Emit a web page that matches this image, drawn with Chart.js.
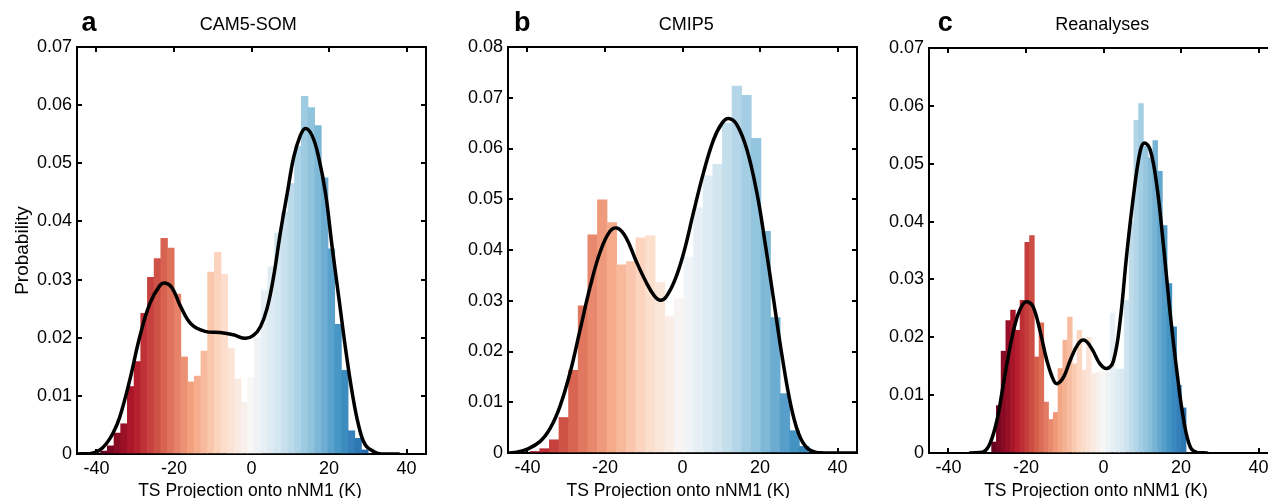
<!DOCTYPE html>
<html><head><meta charset="utf-8">
<script src="https://cdn.jsdelivr.net/npm/chart.js@4/dist/chart.umd.min.js"></script>
<style>
html,body{margin:0;padding:0;width:1268px;height:498px;overflow:hidden;background:#fff}
canvas{position:absolute;top:0}
</style></head><body>
<canvas id="ca" width="430" height="510" style="left:0px"></canvas>
<canvas id="cb" width="430" height="510" style="left:431px"></canvas>
<canvas id="cc" width="430" height="510" style="left:852px"></canvas>
<script>
// ---------- data ----------
const xTicks = [-40, -20, 0, 20, 40];
const yTicksA = [0, 0.01, 0.02, 0.03, 0.04, 0.05, 0.06, 0.07];
const yTicksB = [0, 0.01, 0.02, 0.03, 0.04, 0.05, 0.06, 0.07, 0.08];
const yTicksC = [0, 0.01, 0.02, 0.03, 0.04, 0.05, 0.06, 0.07];

// Panel a: CAM5-SOM
const aBins = [-38.050,-36.325,-34.600,-32.875,-31.150,-29.425,-27.700,-25.975,-24.250,-22.525,
  -20.800,-19.075,-17.350,-15.625,-13.900,-12.175,-10.450,-8.725,-7.000,-5.275,
  -3.550,-1.825,-0.100,1.625,3.350,5.075,6.800,8.525,10.250,11.975,
  13.700,15.425,17.150,18.875,20.600,22.325,24.050,25.775,27.500,29.225];
const aProb = [0.0005,0.0014,0.0036,0.0052,0.0116,0.0159,0.0242,0.0304,0.0336,0.0371,
  0.0354,0.0275,0.0167,0.0124,0.0134,0.0177,0.0313,0.0347,0.0309,0.0182,
  0.0129,0.0089,0.0132,0.0200,0.0281,0.0322,0.0380,0.0416,0.0465,0.0529,
  0.0615,0.0596,0.0565,0.0475,0.0353,0.0223,0.0144,0.0040,0.0027,0.0007];
const aCurveX = [-45,-41.5,-39.1,-37.4,-35.7,-34.0,-31.4,-28.8,-26.2,-23.6,-22.3,-20.5,-18.3,-15.5,-12.0,-8.1,-4.7,-1.6,0.5,2.3,4.0,5.7,7.4,9.2,10.9,12.6,13.9,15.6,17.3,19.1,20.8,22.6,24.3,26.0,27.7,29.4,31.6,33.5,38];
const aCurveY = [0,0.0001,0.0007,0.0018,0.0036,0.0063,0.0127,0.0202,0.0259,0.0290,0.0294,0.0286,0.0254,0.0223,0.0211,0.0209,0.0205,0.0199,0.0204,0.0219,0.0250,0.0305,0.0379,0.0448,0.0511,0.0548,0.0560,0.0548,0.0511,0.0448,0.0356,0.0265,0.0179,0.0104,0.0047,0.0015,0.0004,0,0];

// Panel b: CMIP5
const bBins = [-38.06,-35.58,-33.10,-30.62,-28.14,-25.66,-23.18,-20.70,-18.22,-15.74,
  -13.26,-10.78,-8.30,-5.82,-3.34,-0.86,1.62,4.10,6.58,9.06,
  11.54,14.02,16.50,18.98,21.46,23.94,26.42,28.90,31.38];
const bProb = [0.0003,0.00085,0.0026,0.0070,0.0163,0.0290,0.0430,0.0499,0.0454,0.0371,
  0.0377,0.0424,0.0428,0.0336,0.0269,0.0304,0.0386,0.0483,0.0546,0.0569,
  0.0650,0.0723,0.0705,0.0620,0.0437,0.0267,0.0117,0.0044,0.0013];
const bCurveX = [-45,-42.5,-40.2,-36.7,-34.1,-31.6,-29.0,-26.4,-23.8,-21.2,-18.7,-16.8,-14.6,-12.0,-9.4,-7.3,-5.8,-4.2,-1.9,0.3,2.8,5.4,8.0,10.2,11.9,14.0,16.6,19.2,21.3,23.5,25.7,27.8,29.9,32.1,34.7,37,45];
const bCurveY = [0,0.0002,0.0007,0.0023,0.0049,0.0092,0.0158,0.0243,0.0328,0.0397,0.0437,0.0443,0.0425,0.0379,0.0337,0.0310,0.0301,0.0308,0.0342,0.0394,0.0473,0.0552,0.0617,0.0650,0.0659,0.0647,0.0598,0.0512,0.0414,0.0302,0.0190,0.0099,0.0039,0.0010,0.0001,0,0];

// Panel c: Reanalyses
const cBins = [-28.240,-27.017,-25.794,-24.571,-23.348,-22.125,-20.902,-19.679,-18.456,-17.233,
  -16.010,-14.787,-13.564,-12.341,-11.118,-9.895,-8.672,-7.449,-6.226,-5.003,
  -3.780,-2.557,-1.334,-0.111,1.112,2.335,3.558,4.781,6.004,7.227,
  8.450,9.673,10.896,12.119,13.342,14.565,15.788,17.011,18.234,19.457,20.680];
const cProb = [0.0019,0.0082,0.0176,0.0229,0.0247,0.0212,0.0264,0.0364,0.0376,0.0166,
  0.0225,0.0088,0.0058,0.0070,0.0146,0.0195,0.0235,0.0154,0.0212,0.0143,
  0.0200,0.0137,0.0139,0.0140,0.0139,0.0242,0.0145,0.0145,0.0264,0.0400,
  0.0575,0.0604,0.0530,0.0510,0.0540,0.0487,0.0393,0.0293,0.0218,0.0117,0.0078];
const cCurveX = [-34.4,-31.0,-29.3,-27.5,-25.8,-24.1,-22.4,-20.7,-19.4,-18.1,-16.4,-14.6,-12.9,-11.9,-10.3,-8.6,-6.5,-4.9,-3.0,-0.9,0.9,2.6,4.3,6.0,7.8,9.5,10.6,12.1,13.8,15.5,17.2,19.0,20.7,22.4,24.1,26.7];
const cCurveY = [0,0.0002,0.0016,0.0056,0.0120,0.0183,0.0232,0.0258,0.0261,0.0252,0.0212,0.0160,0.0126,0.0120,0.0131,0.0160,0.0189,0.0195,0.0180,0.0154,0.0146,0.0160,0.0229,0.0344,0.0448,0.0523,0.0536,0.0523,0.0460,0.0356,0.0241,0.0137,0.0056,0.0010,0.0001,0];

// ---------- styling ----------
const FONT = '"Liberation Sans", Arial, Helvetica, sans-serif';
const RDBU = ['#67001f','#b2182b','#d6604d','#f4a582','#fddbc7','#f7f7f7','#d1e5f0','#92c5de','#4393c3','#2166ac','#053061'];
function hex(h){return [1,3,5].map(i=>parseInt(h.substr(i,2),16));}
function rdbu(t){
  t = Math.max(-1, Math.min(1, t));
  const f = (t + 1) / 2 * 10;
  const i = Math.min(9, Math.floor(f));
  const u = f - i;
  const a = hex(RDBU[i]), b = hex(RDBU[i+1]);
  return 'rgb(' + a.map((v,k)=>Math.round(v + (b[k]-v)*u)).join(',') + ')';
}

const W = 430, H = 510, L = 77, R = 426;

function makePanel(id, p){
  const axisBase = () => ({
    type:'linear', bounds:'data', offset:false, z:1,
    border:{display:true, color:'#000', width:2},
    grid:{display:true, offset:false, drawOnChartArea:false, drawTicks:true, tickLength:-5, color:'#000', lineWidth:2}
  });
  const setTicks = arr => (s => { s.ticks = arr.map(v => ({value:v})); });
  new Chart(document.getElementById(id), {
    type:'bar',
    data:{datasets:[
      {type:'line', data:p.curveX.map((x,i)=>({x:x, y:p.curveY[i]})), borderColor:'#000', borderWidth:3.5,
       pointRadius:0, fill:false, tension:0.4, borderJoinStyle:'round', borderCapStyle:'round', order:0},
      {type:'bar', data:p.bins.map((x,i)=>({x:x, y:p.prob[i]})), backgroundColor:p.bins.map(x=>rdbu(x/p.cScale)),
       borderWidth:0, barPercentage:1, categoryPercentage:1, order:1}
    ]},
    options:{
      responsive:false, animation:false, devicePixelRatio:1,
      layout:{padding:0},
      plugins:{legend:{display:false}, tooltip:{enabled:false}, title:{display:false}},
      scales:{
        x:Object.assign(axisBase(), {position:'bottom', min:-45, max:45,
          afterBuildTicks:setTicks(xTicks), afterFit:s=>{s.height = H - p.bottom;},
          ticks:{font:{family:FONT, size:18}, color:'#000', padding:9, maxRotation:0, minRotation:0, autoSkip:false,
                 callback:v=>String(v)}}),
        x2:Object.assign(axisBase(), {position:'top', min:-45, max:45,
          afterBuildTicks:setTicks(xTicks), afterFit:s=>{s.height = p.top;},
          ticks:{display:false}}),
        y:Object.assign(axisBase(), {position:'left', min:0, max:p.ymax,
          afterBuildTicks:setTicks(p.yTicks), afterFit:s=>{s.width = L;},
          ticks:{font:{family:FONT, size:18}, color:'#000', padding:10, autoSkip:false,
                 callback:v=> v === 0 ? '0' : v.toFixed(2)},
          title:{display:!!p.ylabel, text:p.ylabel || '', color:'#000', font:{family:FONT, size:19}, padding:{top:11, bottom:0}}}),
        y2:Object.assign(axisBase(), {position:'right', min:0, max:p.ymax,
          afterBuildTicks:setTicks(p.yTicks), afterFit:s=>{s.width = W - R;},
          ticks:{display:false}})
      }
    },
    plugins:[{id:'panelText', afterDraw(chart){
      const ctx = chart.ctx;
      ctx.save();
      ctx.fillStyle = '#000';
      ctx.textBaseline = 'alphabetic';
      ctx.textAlign = 'left';
      ctx.font = 'bold 27px ' + FONT;
      ctx.fillText(p.letter, p.letterX, 31);
      ctx.textAlign = 'center';
      ctx.font = '18px ' + FONT;
      ctx.fillText(p.title, p.titleX, 30);
      ctx.font = '17.5px ' + FONT;
      ctx.fillText('TS Projection onto nNM1 (K)', p.xlabelX, 496);
      ctx.restore();
    }}]
  });
}

makePanel('ca', {bins:aBins, prob:aProb, curveX:aCurveX, curveY:aCurveY, yTicks:yTicksA, ymax:0.07,
  top:47, bottom:454, cScale:38, letter:'a', letterX:81.6, title:'CAM5-SOM', titleX:248.3, xlabelX:250, ylabel:'Probability'});
makePanel('cb', {bins:bBins, prob:bProb, curveX:bCurveX, curveY:bCurveY, yTicks:yTicksB, ymax:0.08,
  top:47, bottom:453, cScale:48, letter:'b', letterX:83.1, title:'CMIP5', titleX:255.3, xlabelX:247.3});
makePanel('cc', {bins:cBins, prob:cProb, curveX:cCurveX, curveY:cCurveY, yTicks:yTicksC, ymax:0.07,
  top:48, bottom:453, cScale:28.3, letter:'c', letterX:85.8, title:'Reanalyses', titleX:250.2, xlabelX:244});
</script>
</body></html>
